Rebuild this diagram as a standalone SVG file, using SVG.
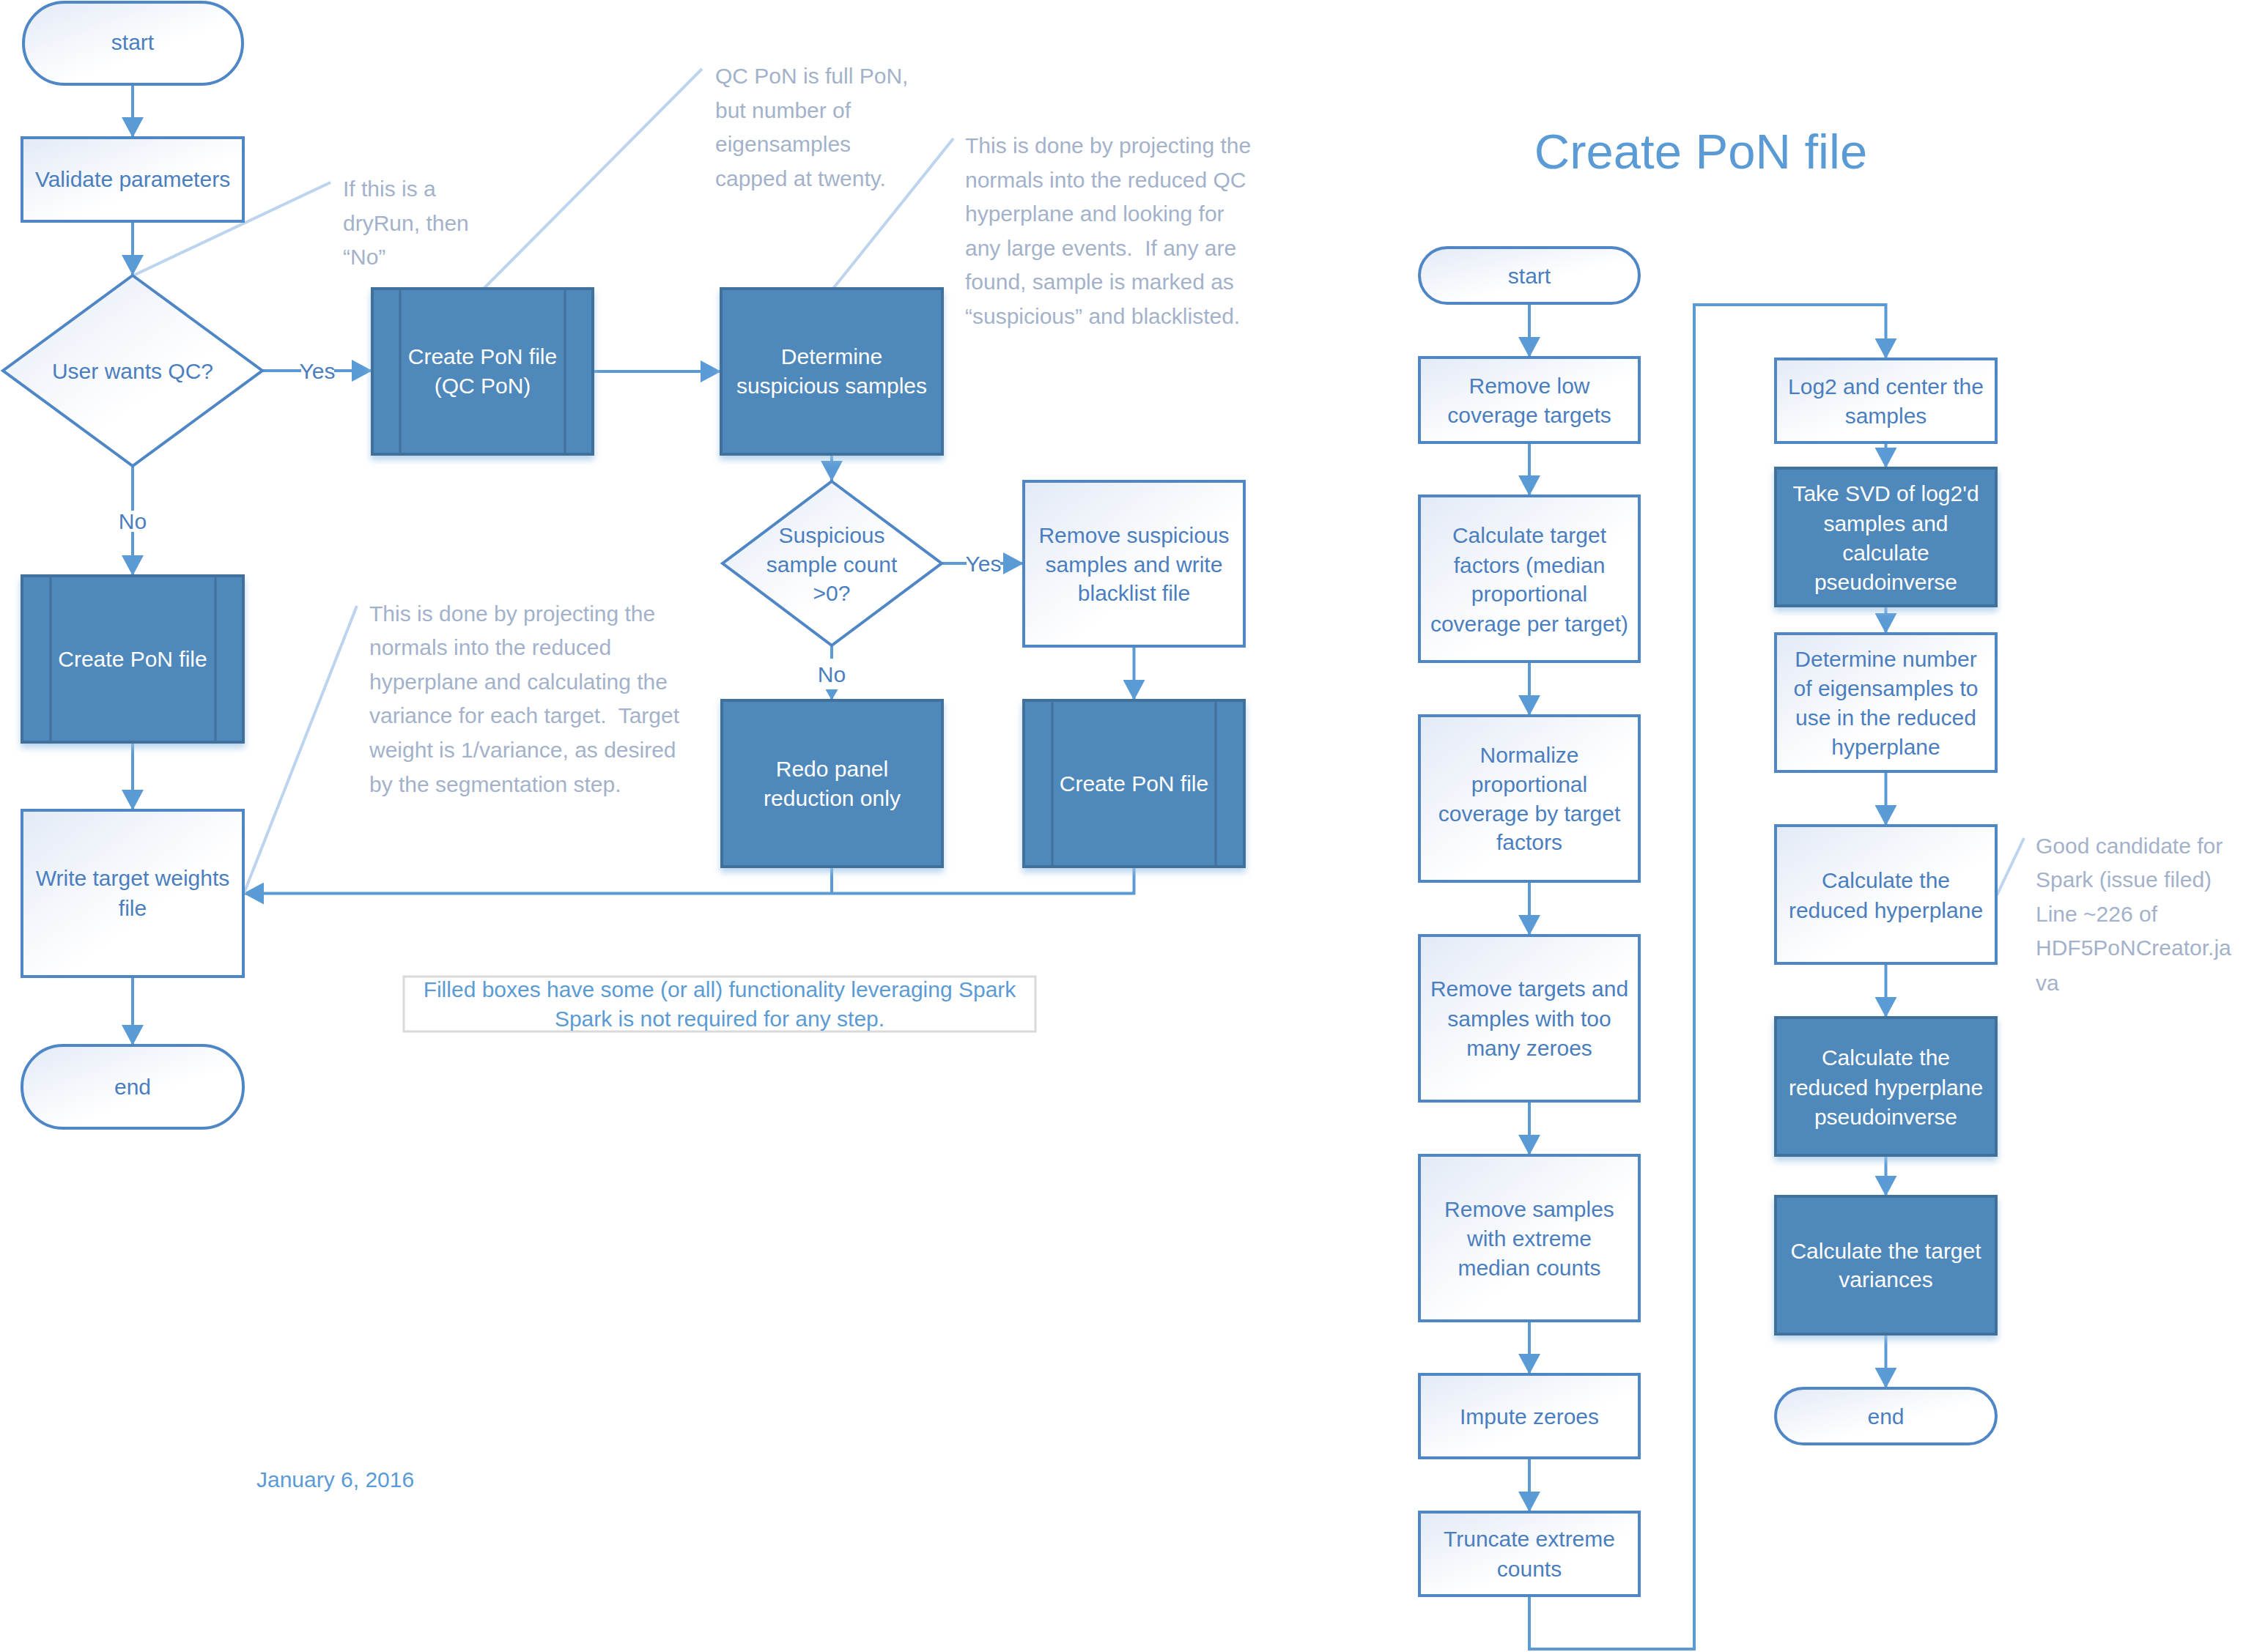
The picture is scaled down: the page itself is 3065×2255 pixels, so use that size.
<svg xmlns="http://www.w3.org/2000/svg" width="3065" height="2255" viewBox="0 0 3065 2255">
<defs>
<linearGradient id="g" x1="0" y1="0" x2="1" y2="1">
<stop offset="0" stop-color="#e3eaf6"/>
<stop offset="0.6" stop-color="#ffffff"/>
</linearGradient>
<filter id="sh" x="-10%" y="-10%" width="120%" height="130%">
<feDropShadow dx="0" dy="6" stdDeviation="5" flood-color="#9cc3e5" flood-opacity="0.7"/>
</filter>
<marker id="ah" markerUnits="userSpaceOnUse" markerWidth="28" markerHeight="30" viewBox="0 0 28 30" refX="28" refY="15" orient="auto">
<path d="M0,0 L28,15 L0,30 Z" fill="#5b9bd5"/>
</marker>
<marker id="ahs" markerUnits="userSpaceOnUse" markerWidth="15" markerHeight="17" viewBox="0 0 15 17" refX="15" refY="8.5" orient="auto">
<path d="M0,0 L15,8.5 L0,17 Z" fill="#5b9bd5"/>
</marker>
</defs>
<style>
.box{fill:url(#g);stroke:#4f86c6;stroke-width:4}
.fbox{fill:#4f88bb;stroke:#41719c;stroke-width:4;filter:url(#sh)}
.fin{fill:none;stroke:#41719c;stroke-width:3}
.t{font-family:"Liberation Sans",Arial,sans-serif;font-size:30px;text-anchor:middle;fill:#4a7ebf}
.tw{fill:#ffffff}
.c{font-family:"Liberation Sans",Arial,sans-serif;font-size:30px;fill:#a3b2ca;white-space:pre}
.cl{stroke:#bdd4ee;stroke-width:4;fill:none}
.con{stroke:#5b9bd5;stroke-width:4;fill:none}
.arr{marker-end:url(#ah)}
.arrs{marker-end:url(#ahs)}
.lbl{font-family:"Liberation Sans",Arial,sans-serif;font-size:30px;text-anchor:middle;fill:#4a7ebf}
</style>
<rect width="3065" height="2255" fill="#ffffff"/>

<!-- connectors -->
<g id="connectors">
<path class="con arr" d="M181,115 V188"/>
<path class="con arr" d="M181,302 V376"/>
<path class="con" d="M358,506 H411"/>
<path class="con arr" d="M456,506 H508"/>
<path class="con arr" d="M809,507 H984"/>
<path class="con arr" d="M1135,620 V657"/>
<path class="con" d="M1285,769 H1319"/>
<path class="con arr" d="M1365,769 H1397"/>
<path class="con" d="M1135,881 V899"/>
<path class="con arrs" d="M1135,941 V956"/>
<path class="con arr" d="M1547.5,882 V956"/>
<path class="con" d="M1135,1183 V1219.5"/>
<path class="con arr" d="M1547.5,1183 V1219.5 H332"/>
<path class="con" d="M181,636 V697"/>
<path class="con arr" d="M181,726 V786"/>
<path class="con arr" d="M181,1013 V1106"/>
<path class="con arr" d="M181,1333 V1427"/>
<path class="con arr" d="M2087,414 V488"/>
<path class="con arr" d="M2087,604 V677"/>
<path class="con arr" d="M2087,903 V977"/>
<path class="con arr" d="M2087,1203 V1277"/>
<path class="con arr" d="M2087,1503 V1577"/>
<path class="con arr" d="M2087,1803 V1876"/>
<path class="con arr" d="M2087,1990 V2064"/>
<path class="con arr" d="M2087,2178 V2251 H2312 V416 H2573.5 V490"/>
<path class="con arr" d="M2573.5,604 V639"/>
<path class="con arr" d="M2573.5,827 V865"/>
<path class="con arr" d="M2573.5,1053 V1127"/>
<path class="con arr" d="M2573.5,1315 V1389"/>
<path class="con arr" d="M2573.5,1577 V1633"/>
<path class="con arr" d="M2573.5,1821 V1895"/>
<text class="lbl" x="433" y="517">Yes</text>
<text class="lbl" x="1342" y="780">Yes</text>
<text class="lbl" x="181" y="722">No</text>
<text class="lbl" x="1135" y="931">No</text>
</g>

<!-- callouts -->
<g id="callouts">
<path class="cl" d="M451,249 L182,376"/>
<path class="cl" d="M958,94 L659,395"/>
<path class="cl" d="M1301,189 L1136,395"/>
<path class="cl" d="M487,827 L333,1219"/>
<path class="cl" d="M2762,1144 L2725,1222"/>
<text class="c" x="468"><tspan x="468" y="268">If this is a</tspan><tspan x="468" y="315">dryRun, then</tspan><tspan x="468" y="361">“No”</tspan></text>
<text class="c" x="976"><tspan x="976" y="114">QC PoN is full PoN,</tspan><tspan x="976" y="161">but number of</tspan><tspan x="976" y="207">eigensamples</tspan><tspan x="976" y="254">capped at twenty.</tspan></text>
<text class="c" x="1317"><tspan x="1317" y="209">This is done by projecting the</tspan><tspan x="1317" y="256">normals into the reduced QC</tspan><tspan x="1317" y="302">hyperplane and looking for</tspan><tspan x="1317" y="349">any large events.&#160; If any are</tspan><tspan x="1317" y="395">found, sample is marked as</tspan><tspan x="1317" y="442">“suspicious” and blacklisted.</tspan></text>
<text class="c" x="504"><tspan x="504" y="848">This is done by projecting the</tspan><tspan x="504" y="894">normals into the reduced</tspan><tspan x="504" y="941">hyperplane and calculating the</tspan><tspan x="504" y="987">variance for each target.&#160; Target</tspan><tspan x="504" y="1034">weight is 1/variance, as desired</tspan><tspan x="504" y="1081">by the segmentation step.</tspan></text>
<text class="c" x="2778"><tspan x="2778" y="1165">Good candidate for</tspan><tspan x="2778" y="1211">Spark (issue filed)</tspan><tspan x="2778" y="1258">Line ~226 of</tspan><tspan x="2778" y="1304">HDF5PoNCreator.ja</tspan><tspan x="2778" y="1352">va</tspan></text>
</g>

<!-- left flow -->
<g id="start1"><rect class="box" x="32" y="3" width="299" height="112" rx="56"/><text class="t" x="181" y="68">start</text></g>
<g id="validate"><rect class="box" x="30" y="188" width="302" height="114"/><text class="t" x="181" y="255">Validate parameters</text></g>
<g id="wantsqc"><polygon class="box" points="181,376 358,506 181,636 4,506"/><text class="t" x="181" y="517">User wants QC?</text></g>
<g id="qcpon"><rect class="fbox" x="508" y="394" width="301" height="226"/><path class="fin" d="M546,394 V620 M771,394 V620"/><text class="t tw" x="658.5" y="497">Create PoN file</text><text class="t tw" x="658.5" y="537">(QC PoN)</text></g>
<g id="determine"><rect class="fbox" x="984" y="394" width="302" height="226"/><text class="t tw" x="1135" y="497">Determine</text><text class="t tw" x="1135" y="537">suspicious samples</text></g>
<g id="suspcount"><polygon class="box" points="1135,657 1285,769 1135,881 986,769"/><text class="t" x="1135" y="741">Suspicious</text><text class="t" x="1135" y="781">sample count</text><text class="t" x="1135" y="820">&gt;0?</text></g>
<g id="removesusp"><rect class="box" x="1397" y="657" width="301" height="225"/><text class="t" x="1547.5" y="741">Remove suspicious</text><text class="t" x="1547.5" y="781">samples and write</text><text class="t" x="1547.5" y="820">blacklist file</text></g>
<g id="createpon2"><rect class="fbox" x="1397" y="956" width="301" height="227"/><path class="fin" d="M1436,956 V1183 M1659,956 V1183"/><text class="t tw" x="1547.5" y="1080">Create PoN file</text></g>
<g id="redo"><rect class="fbox" x="985" y="956" width="301" height="227"/><text class="t tw" x="1135.5" y="1060">Redo panel</text><text class="t tw" x="1135.5" y="1100">reduction only</text></g>
<g id="createpon1"><rect class="fbox" x="30" y="786" width="302" height="227"/><path class="fin" d="M69,786 V1013 M294,786 V1013"/><text class="t tw" x="181" y="910">Create PoN file</text></g>
<g id="writeweights"><rect class="box" x="30" y="1106" width="302" height="227"/><text class="t" x="181" y="1209">Write target weights</text><text class="t" x="181" y="1250">file</text></g>
<g id="end1"><rect class="box" x="30" y="1427" width="302" height="113" rx="56"/><text class="t" x="181" y="1494">end</text></g>

<g id="note"><rect x="551" y="1333" width="862" height="75" fill="#ffffff" stroke="#d9d9d9" stroke-width="3"/><text class="t" x="982" y="1361" style="fill:#5b9bd5">Filled boxes have some (or all) functionality leveraging Spark</text><text class="t" x="982" y="1401" style="fill:#5b9bd5">Spark is not required for any step.</text></g>
<g id="date"><text x="350" y="2030" font-family="Liberation Sans, Arial, sans-serif" font-size="30" fill="#5b9bd5">January 6, 2016</text></g>

<!-- right flow -->
<g id="title"><text x="2321" y="230" font-family="Liberation Sans, Arial, sans-serif" font-size="67" fill="#5b9bd5" text-anchor="middle">Create PoN file</text></g>
<g id="start2"><rect class="box" x="1937" y="338" width="300" height="76" rx="38"/><text class="t" x="2087" y="387">start</text></g>
<g id="removelow"><rect class="box" x="1937" y="488" width="300" height="116"/><text class="t" x="2087" y="537">Remove low</text><text class="t" x="2087" y="577">coverage targets</text></g>
<g id="calcfactors"><rect class="box" x="1937" y="677" width="300" height="226"/><text class="t" x="2087" y="741">Calculate target</text><text class="t" x="2087" y="782">factors (median</text><text class="t" x="2087" y="821">proportional</text><text class="t" x="2087" y="862">coverage per target)</text></g>
<g id="normalize"><rect class="box" x="1937" y="977" width="300" height="226"/><text class="t" x="2087" y="1041">Normalize</text><text class="t" x="2087" y="1081">proportional</text><text class="t" x="2087" y="1121">coverage by target</text><text class="t" x="2087" y="1160">factors</text></g>
<g id="removezeros"><rect class="box" x="1937" y="1277" width="300" height="226"/><text class="t" x="2087" y="1360">Remove targets and</text><text class="t" x="2087" y="1401">samples with too</text><text class="t" x="2087" y="1441">many zeroes</text></g>
<g id="removeextreme"><rect class="box" x="1937" y="1577" width="300" height="226"/><text class="t" x="2087" y="1661">Remove samples</text><text class="t" x="2087" y="1701">with extreme</text><text class="t" x="2087" y="1741">median counts</text></g>
<g id="impute"><rect class="box" x="1937" y="1876" width="300" height="114"/><text class="t" x="2087" y="1944">Impute zeroes</text></g>
<g id="truncate"><rect class="box" x="1937" y="2064" width="300" height="114"/><text class="t" x="2087" y="2111">Truncate extreme</text><text class="t" x="2087" y="2152">counts</text></g>
<g id="log2"><rect class="box" x="2423" y="490" width="301" height="114"/><text class="t" x="2573.5" y="538">Log2 and center the</text><text class="t" x="2573.5" y="578">samples</text></g>
<g id="svd"><rect class="fbox" x="2423" y="639" width="301" height="188"/><text class="t tw" x="2573.5" y="684">Take SVD of log2'd</text><text class="t tw" x="2573.5" y="725">samples and</text><text class="t tw" x="2573.5" y="765">calculate</text><text class="t tw" x="2573.5" y="805">pseudoinverse</text></g>
<g id="numeigen"><rect class="box" x="2423" y="865" width="301" height="188"/><text class="t" x="2573.5" y="910">Determine number</text><text class="t" x="2573.5" y="950">of eigensamples to</text><text class="t" x="2573.5" y="990">use in the reduced</text><text class="t" x="2573.5" y="1030">hyperplane</text></g>
<g id="reducedhp"><rect class="box" x="2423" y="1127" width="301" height="188"/><text class="t" x="2573.5" y="1212">Calculate the</text><text class="t" x="2573.5" y="1253">reduced hyperplane</text></g>
<g id="pinv"><rect class="fbox" x="2423" y="1389" width="301" height="188"/><text class="t tw" x="2573.5" y="1454">Calculate the</text><text class="t tw" x="2573.5" y="1495">reduced hyperplane</text><text class="t tw" x="2573.5" y="1535">pseudoinverse</text></g>
<g id="variances"><rect class="fbox" x="2423" y="1633" width="301" height="188"/><text class="t tw" x="2573.5" y="1718">Calculate the target</text><text class="t tw" x="2573.5" y="1757">variances</text></g>
<g id="end2"><rect class="box" x="2423" y="1895" width="301" height="76" rx="38"/><text class="t" x="2573.5" y="1944">end</text></g>
</svg>
